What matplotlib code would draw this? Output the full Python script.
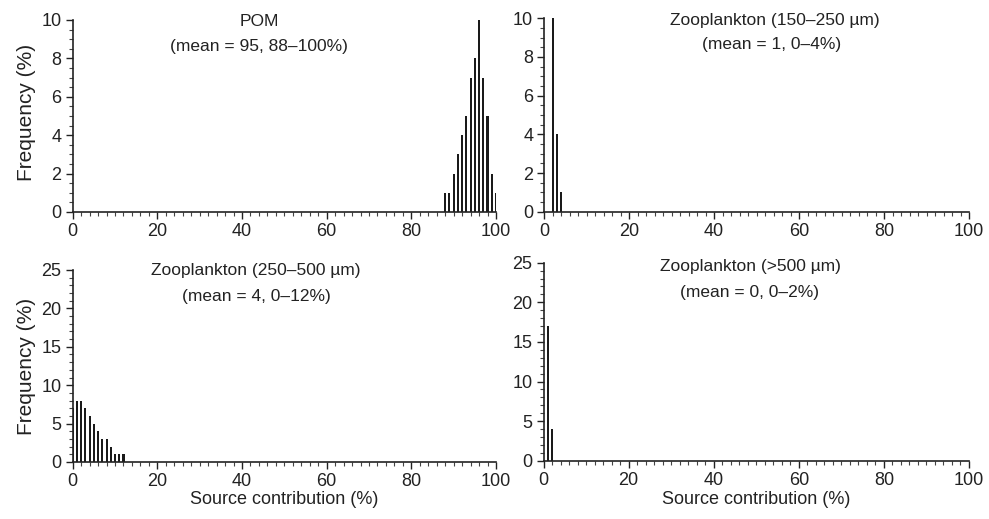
import matplotlib
matplotlib.use("Agg")
import matplotlib.pyplot as plt
from matplotlib.ticker import MultipleLocator

plt.rcParams['font.family'] = ['Liberation Sans', 'DejaVu Sans']

# Data
pom_x = [88, 89, 90, 91, 92, 93, 94, 95, 96, 97, 98, 99, 100]
pom_y = [1, 1, 2, 3, 4, 5, 7, 8, 10, 7, 5, 2, 1]
zs_x = [2, 3, 4]
zs_y = [10, 4, 1]
zm_x = [0, 1, 2, 3, 4, 5, 6, 7, 8, 9, 10, 11, 12]
zm_y = [7, 8, 8, 7, 6, 5, 4, 3, 3, 2, 1, 1, 1]
zl_x = [1, 2]
zl_y = [17, 4]

titles = [
    ("POM", "(mean = 95, 88\u2013100%)"),
    ("Zooplankton (150\u2013250 \u00b5m)", "(mean = 1, 0\u20134%)"),
    ("Zooplankton (250\u2013500 \u00b5m)", "(mean = 4, 0\u201312%)"),
    ("Zooplankton (>500 \u00b5m)", "(mean = 0, 0\u20132%)"),
]

W, H = 989, 519
fig = plt.figure(figsize=(W / 100, H / 100), dpi=100)

def ax_px(x0, y_top, x1, y_bot):
    return fig.add_axes([x0 / W, 1 - y_bot / H, (x1 - x0) / W, (y_bot - y_top) / H])

axes = [
    ax_px(72.7, 20, 496, 212),
    ax_px(544.3, 18.3, 969, 211.7),
    ax_px(72.7, 270, 496, 462),
    ax_px(543.5, 262.7, 969, 460.7),
]
data = [(pom_x, pom_y, 10, 2, 0.5), (zs_x, zs_y, 10, 2, 0.5),
        (zm_x, zm_y, 25, 5, 1), (zl_x, zl_y, 25, 5, 1)]

for ax, (xs, ys, ymax, ymaj, ymin) in zip(axes, data):
    ax.bar(xs, ys, width=0.5, color='#1a1a1a', align='center', antialiased=False)
    ax.set_xlim(0, 100)
    ax.set_ylim(0, ymax)
    ax.xaxis.set_major_locator(MultipleLocator(20))
    ax.xaxis.set_minor_locator(MultipleLocator(2))
    ax.yaxis.set_major_locator(MultipleLocator(ymaj))
    ax.yaxis.set_minor_locator(MultipleLocator(ymin))
    for s in ['top', 'right']:
        ax.spines[s].set_visible(False)
    for s in ['left', 'bottom']:
        ax.spines[s].set_linewidth(1.2)
        ax.spines[s].set_color('#222222')
    ax.tick_params(which='major', direction='out', length=5, width=1.0,
                   labelsize=13, colors='#222222', pad=3)
    ax.tick_params(which='minor', direction='out', length=3, width=0.8,
                   colors='#444444')
    ax.patch.set_alpha(0)

# Titles (pixel positions)
title_pos = [
    ((259, 22), (259, 46)),
    ((775, 20), (772, 45)),
    ((256, 270), (256, 296)),
    ((750, 266), (750, 292)),
]
for (l1, l2), ((x1, y1), (x2, y2)) in zip(titles, title_pos):
    fig.text(x1 / W, 1 - y1 / H, l1, ha='center', va='center', fontsize=12.5, color='#222222')
    fig.text(x2 / W, 1 - y2 / H, l2, ha='center', va='center', fontsize=12.5, color='#222222')

fig.text(27 / W, 1 - 112 / H, "Frequency (%)", rotation=90, ha='center', va='center',
         fontsize=15, color='#222222')
fig.text(27 / W, 1 - 366 / H, "Frequency (%)", rotation=90, ha='center', va='center',
         fontsize=15, color='#222222')
fig.text(284 / W, 1 - 500 / H, "Source contribution (%)", ha='center', va='center',
         fontsize=13, color='#222222')
fig.text(756 / W, 1 - 500 / H, "Source contribution (%)", ha='center', va='center',
         fontsize=13, color='#222222')

fig.savefig("out.png", dpi=100, facecolor='white')
